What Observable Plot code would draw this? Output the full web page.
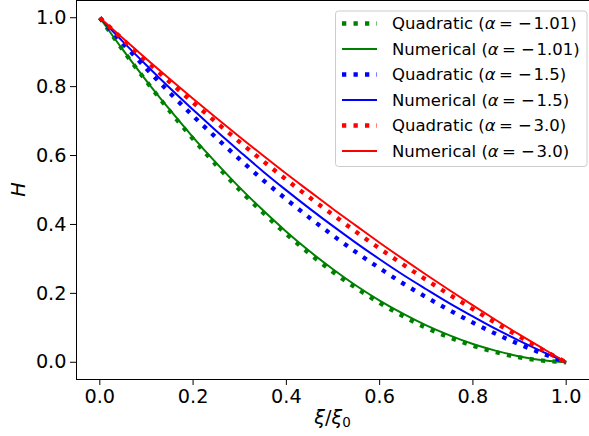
<!DOCTYPE html>
<html><head><meta charset="utf-8">
<script src="https://cdn.jsdelivr.net/npm/d3@7"></script>
<script src="https://cdn.jsdelivr.net/npm/@observablehq/plot@0.6"></script>
<style>body{margin:0;background:#fff;} #chart svg{display:block;}</style>
</head><body><div id="chart"></div>
<script>
// ---- data ----
const xi = [0,0.05,0.10,0.15,0.20,0.25,0.30,0.35,0.40,0.45,0.50,0.55,0.60,0.65,0.70,0.75,0.80,0.85,0.90,0.95,1.00];
const quad101 = [1,0.905,0.815,0.729,0.648,0.572,0.500,0.434,0.372,0.315,0.262,0.215,0.172,0.134,0.100,0.072,0.048,0.029,0.014,0.005,0];
const num101  = [1,0.906,0.817,0.733,0.653,0.578,0.507,0.441,0.379,0.322,0.270,0.222,0.179,0.141,0.107,0.078,0.053,0.033,0.017,0.006,0];
const quad15  = [1,0.925,0.852,0.782,0.715,0.651,0.589,0.529,0.473,0.419,0.368,0.319,0.273,0.229,0.189,0.151,0.115,0.082,0.052,0.025,0];
const num15   = [1,0.930,0.862,0.796,0.733,0.671,0.612,0.554,0.499,0.446,0.395,0.346,0.299,0.254,0.212,0.171,0.133,0.096,0.062,0.030,0];
const quad30  = [1,0.936,0.874,0.813,0.754,0.696,0.639,0.584,0.530,0.478,0.428,0.378,0.330,0.284,0.239,0.196,0.154,0.113,0.074,0.036,0];
const num30   = [1,0.940,0.880,0.822,0.765,0.709,0.654,0.600,0.547,0.496,0.445,0.396,0.347,0.300,0.254,0.209,0.165,0.122,0.080,0.040,0];
const seriesNames  = ["Quadratic","Numerical","Quadratic","Numerical","Quadratic","Numerical"];
const seriesAlpha  = ["−1.01","−1.01","−1.5","−1.5","−3.0","−3.0"];
const seriesColors = ["#008000","#008000","#0000ff","#0000ff","#ff0000","#ff0000"];
const seriesValues = [quad101, num101, quad15, num15, quad30, num30];
const xTicks = [0,0.2,0.4,0.6,0.8,1.0];
const yTicks = [0,0.2,0.4,0.6,0.8,1.0];
const xDomain = [-0.05, 1.05];
const yDomain = [-0.05, 1.05];

// ---- layout ----
const W = 589, Ht = 436, mL = 76, mR = 0, mT = 0, mB = 57;
const FS = 19.25;   // tick & axis label font
const LFS = 16.5;   // legend font

const series = seriesNames.map((n, k) => ({
  key: k, name: n, alpha: seriesAlpha[k], color: seriesColors[k],
  dotted: n === "Quadratic",
  rows: seriesValues[k].map((h, i) => ({x: xi[i], h}))
}));

const lineMarks = series.map(s => Plot.line(s.rows, {
  x: "x", y: "h", stroke: s.color, curve: "monotone-x",
  strokeWidth: s.dotted ? 4.3 : 2,
  strokeDasharray: s.dotted ? "4.3,7.2" : null,
  strokeLinecap: "butt"
}));

const plot = Plot.plot({
  width: W, height: Ht,
  marginLeft: mL, marginRight: mR, marginTop: mT, marginBottom: mB,
  style: {fontFamily: "DejaVu Sans", fontSize: FS + "px", color: "black", background: "white", overflow: "visible"},
  x: {domain: xDomain},
  y: {domain: yDomain},
  marks: [
    ...lineMarks,
    Plot.ruleX([xDomain[0]], {stroke: "black", strokeWidth: 1}),
    Plot.ruleY(yDomain, {stroke: "black", strokeWidth: 1}),
    Plot.axisX({ticks: xTicks, tickFormat: d => d.toFixed(1), tickSize: 6, tickPadding: 4, label: null, fontSize: FS}),
    Plot.axisY({ticks: yTicks, tickFormat: d => d.toFixed(1), tickSize: 6, tickPadding: 4, label: null, fontSize: FS})
  ]
});

document.getElementById("chart").appendChild(plot);

// ---- axis labels with math-like styling ----
const svg = d3.select(plot);
const cx = (mL + W - mR) / 2, cy = (mT + Ht - mB) / 2;
const xl = svg.append("text").attr("x", cx).attr("y", Ht - mB + 45)
  .attr("text-anchor", "middle").attr("font-family", "DejaVu Sans").attr("font-size", FS).attr("fill", "black");
xl.append("tspan").attr("font-style", "italic").text("ξ");
xl.append("tspan").text("/");
xl.append("tspan").attr("font-style", "italic").text("ξ");
xl.append("tspan").attr("font-size", FS * 0.7).attr("dy", 3).text("0");

svg.append("text").attr("transform", `translate(25,${cy}) rotate(-90)`)
  .attr("text-anchor", "middle").attr("font-family", "DejaVu Sans").attr("font-size", FS)
  .attr("font-style", "italic").attr("fill", "black").text("H");

// ---- legend (inside the axes, top right) ----
const lg = svg.append("g").attr("font-family", "DejaVu Sans").attr("font-size", LFS).attr("text-anchor", "start");
const bx = 335.5, by = 11, bw = 251.5, bh = 155.5;
lg.append("rect").attr("x", bx).attr("y", by).attr("width", bw).attr("height", bh)
  .attr("rx", 3).attr("fill", "white").attr("fill-opacity", 0.8).attr("stroke", "#cccccc");
series.forEach((s, k) => {
  const yy = by + 12.5 + k * 25.5;
  lg.append("line").attr("x1", bx + 6.5).attr("x2", bx + 41.5).attr("y1", yy).attr("y2", yy)
    .attr("stroke", s.color).attr("stroke-width", s.dotted ? 4.3 : 2)
    .attr("stroke-dasharray", s.dotted ? "4.3,7.2" : null);
  const t = lg.append("text").attr("x", bx + 56.5).attr("y", yy).attr("dy", "0.36em")
    .attr("text-anchor", "start").attr("fill", "black");
  t.append("tspan").text(s.name + " (");
  t.append("tspan").attr("font-style", "italic").text("α");
  t.append("tspan").text("\u2009= " + s.alpha.replace("−", "−\u200a") + ")");
});
</script>
</body></html>
